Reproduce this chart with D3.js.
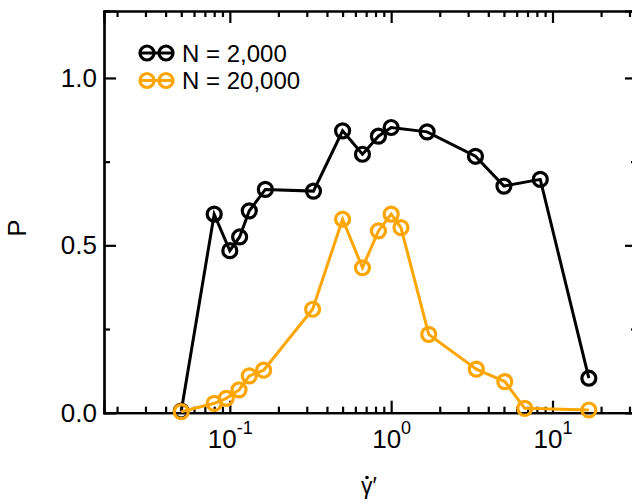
<!DOCTYPE html>
<html>
<head>
<meta charset="utf-8">
<script src="https://cdn.jsdelivr.net/npm/d3@7"></script>
<style>
  body { margin: 0; background: white; }
  text { font-family: "Liberation Sans", Arial, sans-serif; fill: black; }
</style>
</head>
<body>
<div id="chart"></div>
<script>
// shear rate (gamma dot prime) vs probability P, two system sizes
var shear2k  = [0.05, 0.08, 0.1, 0.115, 0.132, 0.166, 0.33, 0.5, 0.664, 0.834, 1.0, 1.67, 3.33, 5.0, 8.4, 16.8];
var p2k      = [0.005, 0.593, 0.484, 0.525, 0.603, 0.667, 0.662, 0.842, 0.772, 0.826, 0.852, 0.839, 0.766, 0.677, 0.697, 0.103];
var shear20k = [0.05, 0.08, 0.095, 0.114, 0.132, 0.162, 0.326, 0.5, 0.664, 0.834, 1.0, 1.15, 1.71, 3.37, 5.06, 6.73, 16.8];
var p20k     = [0.003, 0.028, 0.043, 0.068, 0.11, 0.127, 0.309, 0.578, 0.433, 0.543, 0.593, 0.553, 0.234, 0.13, 0.093, 0.013, 0.008];
var seriesNames = ["N = 2,000", "N = 20,000"];
var seriesColors = ["black", "orange"];
var xMajor = [0.1, 1, 10];
var xMajorExp = ["-1", "0", "1"];
var yMajor = [0, 0.5, 1.0];
var yMinor = [0.25, 0.75];

var W = 632, H = 504;
var L = 104, R = 637, T = 11, B = 412.7;

var svg = d3.select("#chart").append("svg").attr("width", W).attr("height", H);

var x = d3.scaleLog().domain([0.0166, 33.4]).range([L, R]);
var y = d3.scaleLinear().domain([0, 1.2]).range([B, T]);

var xMinor = [];
[0.01, 0.1, 1, 10].forEach(function(d){
  for (var k = 2; k <= 9; k++){ var v = d*k; if (v > x.domain()[0] && v < x.domain()[1]) xMinor.push(v); }
});

function styleAxis(g){
  g.select(".domain").attr("stroke-width", 2.2);
  g.selectAll(".tick line").attr("stroke-width", 2.2);
}

// bottom axis
var gB = svg.append("g").attr("transform", "translate(0," + B + ")")
  .call(d3.axisBottom(x).tickValues(xMajor).tickSize(-12).tickFormat(""));
gB.call(styleAxis);
gB.selectAll(".tick text").remove();
gB.selectAll(".tick").append("text")
  .attr("y", 35).attr("text-anchor", "middle").style("font-size", "26px")
  .each(function(d, i){
    var t = d3.select(this);
    t.append("tspan").text("10");
    t.append("tspan").attr("dy", -14).style("font-size", "18px").text(xMajorExp[i]);
  });
svg.append("g").attr("transform", "translate(0," + B + ")")
  .call(d3.axisBottom(x).tickValues(xMinor).tickSize(-6).tickFormat("")).call(styleAxis);

// top axis
svg.append("g").attr("transform", "translate(0," + T + ")")
  .call(d3.axisTop(x).tickValues(xMajor).tickSize(-12).tickFormat("")).call(styleAxis);
svg.append("g").attr("transform", "translate(0," + T + ")")
  .call(d3.axisTop(x).tickValues(xMinor).tickSize(-6).tickFormat("")).call(styleAxis);

// left axis
var gL = svg.append("g").attr("transform", "translate(" + L + ",0)")
  .call(d3.axisLeft(y).tickValues(yMajor).tickSize(-12).tickPadding(7).tickFormat(d3.format(".1f")));
gL.call(styleAxis);
gL.selectAll(".tick text").style("font-size", "26px").attr("fill", "black");
svg.append("g").attr("transform", "translate(" + L + ",0)")
  .call(d3.axisLeft(y).tickValues(yMinor).tickSize(-6).tickFormat("")).call(styleAxis);

// right axis
svg.append("g").attr("transform", "translate(" + R + ",0)")
  .call(d3.axisRight(y).tickValues(yMajor).tickSize(-12).tickFormat("")).call(styleAxis);
svg.append("g").attr("transform", "translate(" + R + ",0)")
  .call(d3.axisRight(y).tickValues(yMinor).tickSize(-6).tickFormat("")).call(styleAxis);

// axis labels
svg.append("text").attr("transform", "translate(26,228)rotate(-90)")
  .attr("text-anchor", "middle").style("font-size", "26px").text("P");
svg.append("text").attr("x", 361).attr("y", 494).style("font-size", "23px").text("\u03B3\u2032");
svg.append("circle").attr("cx", 367).attr("cy", 477.5).attr("r", 1.8).attr("fill", "black"); // dot over gamma

// series
var series = [
  {xs: shear2k, ys: p2k},
  {xs: shear20k, ys: p20k}
];
var line = d3.line().x(function(d){ return x(d[0]); }).y(function(d){ return y(d[1]); });

series.forEach(function(s, i){
  var pts = s.xs.map(function(v, j){ return [v, s.ys[j]]; });
  var g = svg.append("g");
  g.append("path").datum(pts).attr("d", line)
    .attr("fill", "none").attr("stroke", seriesColors[i]).attr("stroke-width", 3);
  g.selectAll("circle").data(pts).enter().append("circle")
    .attr("cx", function(d){ return x(d[0]); }).attr("cy", function(d){ return y(d[1]); })
    .attr("r", 7).attr("fill", "none").attr("stroke", seriesColors[i]).attr("stroke-width", 3.2);
});

// legend
seriesNames.forEach(function(name, i){
  var ly = 53 + i*27.5;
  var g = svg.append("g");
  g.append("line").attr("x1", 139).attr("x2", 174).attr("y1", ly).attr("y2", ly)
    .attr("stroke", seriesColors[i]).attr("stroke-width", 3);
  [147, 166].forEach(function(cx){
    g.append("circle").attr("cx", cx).attr("cy", ly).attr("r", 7)
      .attr("fill", "none").attr("stroke", seriesColors[i]).attr("stroke-width", 3.2);
  });
  g.append("text").attr("x", 182).attr("y", ly + 8.5).style("font-size", "24px").text(name);
});
</script>
</body>
</html>
